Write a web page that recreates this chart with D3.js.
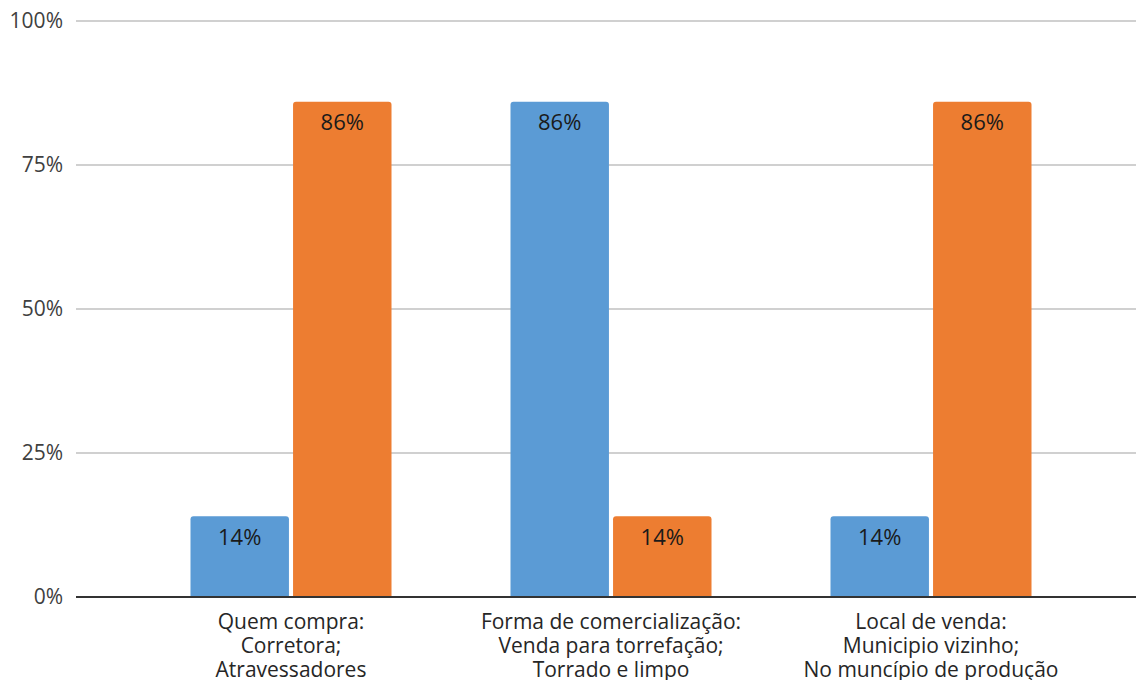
<!DOCTYPE html>
<html><head><meta charset="utf-8">
<script src="https://cdn.jsdelivr.net/npm/d3@7"></script>
<style>body{margin:0;background:#fff;}svg{display:block;font-family:"Open Sans","Noto Sans",sans-serif;}</style>
</head><body><svg id="c" width="1136" height="680"></svg>
<script>
const categories = [
  ["Quem compra:", "Corretora;", "Atravessadores"],
  ["Forma de comercialização:", "Venda para torrefação;", "Torrado e limpo"],
  ["Local de venda:", "Municipio vizinho;", "No muncípio de produção"]
];
const seriesNames = ["Série 1", "Série 2"];
const series1 = [14, 86, 14];
const series2 = [86, 14, 86];
const yTicks = [0, 25, 50, 75, 100];
const colors = ["#5B9BD5", "#ED7D31"];

const svg = d3.select("#c");
const y = d3.scaleLinear().domain([0, 100]).range([597, 21]);
const x0 = d3.scaleBand().domain(d3.range(categories.length)).range([131, 1091]).padding(0);
const groupW = 201;
const x1 = d3.scaleBand().domain(d3.range(seriesNames.length)).range([0, groupW]).paddingInner(0.04);

// grid
svg.append("g").selectAll("line").data(yTicks.filter(d => d > 0)).join("line")
  .attr("x1", 76).attr("x2", 1136).attr("y1", d => y(d)).attr("y2", d => y(d))
  .attr("stroke", "#d0d0d0").attr("stroke-width", 2);

svg.append("g").selectAll("text").data(yTicks).join("text")
  .attr("x", 63).attr("y", d => y(d)).attr("dy", "0.35em").attr("text-anchor", "end")
  .attr("font-size", 21).attr("fill", "#404040").text(d => d + "%");

const data = [];
categories.forEach((c, i) => {
  [series1, series2].forEach((s, j) => data.push({ i, j, v: s[i] }));
});

function barPath(x, yTop, w, yBot, r) {
  return `M${x},${yBot}V${yTop + r}Q${x},${yTop} ${x + r},${yTop}H${x + w - r}Q${x + w},${yTop} ${x + w},${yTop + r}V${yBot}Z`;
}

const bars = svg.append("g");
data.forEach(d => {
  const bx = x0(d.i) + (x0.bandwidth() - groupW) / 2 + x1(d.j);
  const bw = x1.bandwidth();
  bars.append("path").attr("d", barPath(bx, y(d.v), bw, y(0), 3)).attr("fill", colors[d.j]);
  bars.append("text").attr("x", bx + bw / 2).attr("y", y(d.v) + 21).attr("dy", "0.35em")
    .attr("text-anchor", "middle").attr("font-size", 22).attr("fill", "#1a1a1a").text(d.v + "%");
});

// baseline
svg.append("line").attr("x1", 76).attr("x2", 1136).attr("y1", y(0)).attr("y2", y(0))
  .attr("stroke", "#333").attr("stroke-width", 2);

// category labels
const cl = svg.append("g");
categories.forEach((lines, i) => {
  const cx = x0(i) + x0.bandwidth() / 2;
  lines.forEach((t, k) => {
    cl.append("text").attr("x", cx).attr("y", 622 + k * 24).attr("dy", "0.35em")
      .attr("text-anchor", "middle").attr("font-size", 21).attr("fill", "#262626").text(t);
  });
});
</script></body></html>
